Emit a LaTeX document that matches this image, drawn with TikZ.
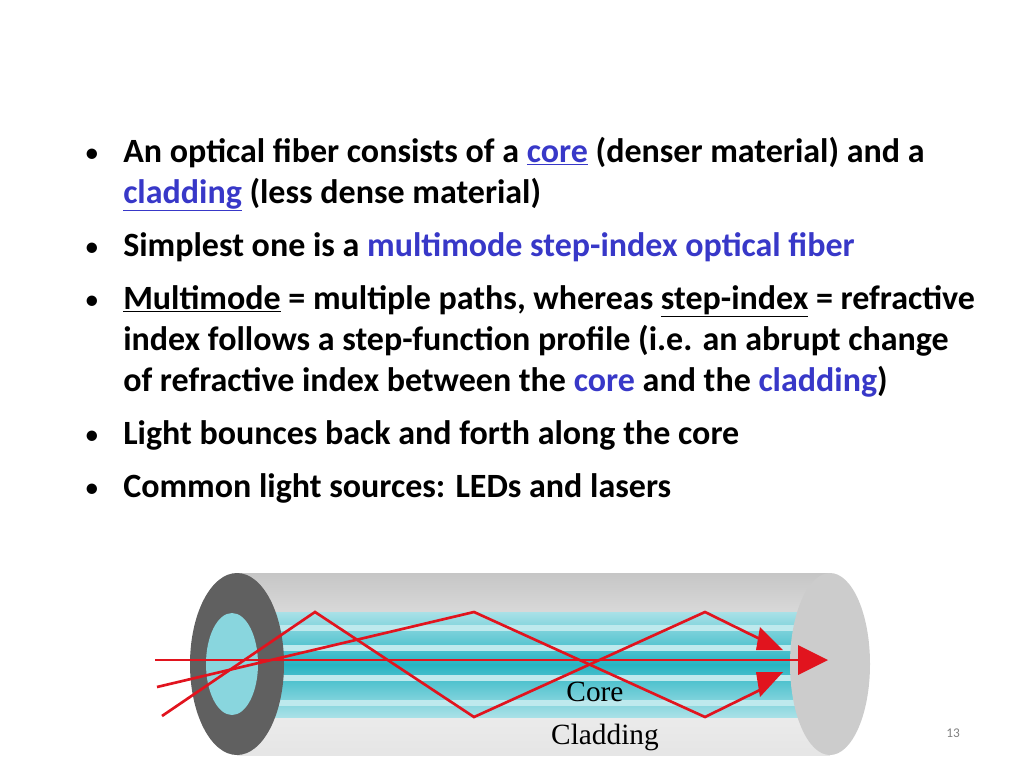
\documentclass[tikz,border=0pt]{standalone}
\usepackage{fontspec}
\setmainfont{Carlito}
\newfontfamily\figfont{Liberation Serif}
\usetikzlibrary{positioning}
\definecolor{hiblue}{RGB}{56,56,200}
\definecolor{raycol}{RGB}{225,20,30}
\definecolor{corecyan}{RGB}{40,180,195}
\tikzset{
  line/.style={anchor=base west, inner sep=0pt, font=\bfseries\fontsize{25.5}{28}\selectfont},
  dot/.style={anchor=base, inner sep=0pt, font=\fontsize{22}{24}\selectfont},
  ray/.style={raycol, line width=2pt},
  tip/.style={fill=raycol, draw=none}
}
\newcommand{\hb}[1]{\textcolor{hiblue}{#1}}
\begin{document}
\begin{tikzpicture}[x=0.75pt,y=-0.75pt]
\useasboundingbox (0,0) rectangle (1024,768);
% bullets
\node[dot] (b1) at (92,162) {\textbullet};
\node[dot] (b2) at (92,256) {\textbullet};
\node[dot] (b3) at (92,309) {\textbullet};
\node[dot] (b4) at (92,444) {\textbullet};
\node[dot] (b5) at (92,497) {\textbullet};
\node[line] (l1) at (123,162) {An optical fiber consists of a \hb{\underline{core}} (denser material) and a};
\node[line] (l2) at (123,203) {\hb{\underline{cladding}} (less dense material)};
\node[line] (l3) at (123,256) {Simplest one is a \hb{multimode step-index optical fiber}};
\node[line] (l4) at (123,309) {\underline{Multimode} = multiple paths, whereas \underline{step-index} = refractive};
\node[line] (l5) at (123,350) {index follows a step-function profile (i.e. an abrupt change};
\node[line] (l6) at (123,391) {of refractive index between the \hb{core} and the \hb{cladding})};
\node[line] (l7) at (123,444) {Light bounces back and forth along the core};
\node[line] (l8) at (123,497) {Common light sources: LEDs and lasers};
%--------------------------- fiber
\fill[top color=gray!45, bottom color=gray!20, middle color=gray!10] (237,573) rectangle (830,755);
\fill[top color=corecyan!40, bottom color=corecyan!40, middle color=corecyan] (237,612) rectangle (830,717);
\foreach \yy in {625,645,675,700} \fill[white!70!corecyan] (237,\yy) rectangle (830,\yy+6);
\fill[gray!40] (830,664) ellipse [x radius=40, y radius=91];
\fill[gray!75!black] (237,664) ellipse [x radius=47, y radius=91];
\fill[corecyan!55] (232,664) ellipse [x radius=26, y radius=51];
% rays
\coordinate (in1) at (162,716);
\coordinate (in2) at (157,687);
\coordinate (in0) at (155,660);
\draw[ray] (in1) -- (315,612) -- (474,717) -- (705,612) -- (764,641);
\draw[ray] (in2) -- (474,612) -- (705,717) -- (764,688);
\draw[ray] (in0) -- (800,660);
\fill[tip] (783,650) -- (760,627) -- (756,650) -- cycle;
\fill[tip] (783,672) -- (760,697) -- (756,672) -- cycle;
\fill[tip] (828,660) -- (798,645) -- (798,675) -- cycle;
\node[font=\figfont\fontsize{22}{24}\selectfont] (core) at (595,692) {Core};
\node[font=\figfont\fontsize{22}{24}\selectfont] (clad) at (605,737) {Cladding};
\node[font=\fontsize{10}{12}\selectfont, text=gray] (pg) at (953,733) {13};
\end{tikzpicture}
\end{document}
